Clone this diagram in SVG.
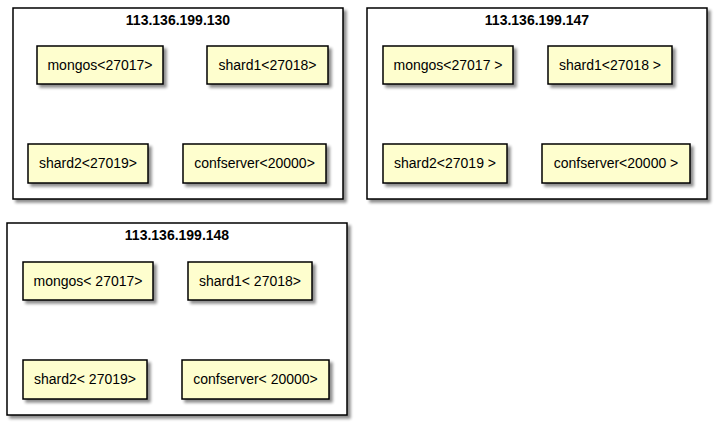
<svg xmlns="http://www.w3.org/2000/svg" width="717" height="426" viewBox="0 0 717 426">
<defs>
<filter id="sh" x="-10%" y="-10%" width="130%" height="140%">
<feGaussianBlur in="SourceAlpha" stdDeviation="1.5"/>
<feOffset dx="3" dy="3" result="b"/>
<feComponentTransfer><feFuncA type="linear" slope="0.45"/></feComponentTransfer>
<feMerge><feMergeNode/><feMergeNode in="SourceGraphic"/></feMerge>
</filter>
<style>
.frame{fill:#FFFFFF;stroke:#000000;stroke-width:1.5;filter:url(#sh)}
.node{fill:#FEFECE;stroke:#000000;stroke-width:1.5;filter:url(#sh)}
.t{font-family:"Liberation Sans",Arial,sans-serif;font-size:14px;fill:#000000;text-anchor:middle}
.h{font-family:"Liberation Sans",Arial,sans-serif;font-size:14px;font-weight:bold;fill:#000000;text-anchor:middle}
</style>
</defs>
<rect width="717" height="426" fill="#FFFFFF"/>
<g id="host130">
<rect class="frame" x="13" y="8" width="330" height="191"/>
<text class="h" x="178" y="25">113.136.199.130</text>
</g>
<g id="mongos130"><rect class="node" x="37" y="46" width="126" height="38"/><text class="t" x="100" y="70">mongos&lt;27017&gt;</text></g>
<g id="shard1_130"><rect class="node" x="207" y="46" width="121" height="38"/><text class="t" x="267.5" y="70">shard1&lt;27018&gt;</text></g>
<g id="shard2_130"><rect class="node" x="28" y="144" width="120" height="39"/><text class="t" x="88" y="168">shard2&lt;27019&gt;</text></g>
<g id="conf130"><rect class="node" x="183" y="144" width="143" height="39"/><text class="t" x="254.5" y="168">confserver&lt;20000&gt;</text></g>

<g id="host147">
<rect class="frame" x="367" y="8" width="340" height="191"/>
<text class="h" x="537" y="25">113.136.199.147</text>
</g>
<g id="mongos147"><rect class="node" x="383" y="46" width="130" height="38"/><text class="t" x="448" y="70">mongos&lt;27017 &gt;</text></g>
<g id="shard1_147"><rect class="node" x="548" y="46" width="124" height="38"/><text class="t" x="610" y="70">shard1&lt;27018 &gt;</text></g>
<g id="shard2_147"><rect class="node" x="383" y="144" width="124" height="39"/><text class="t" x="445" y="168">shard2&lt;27019 &gt;</text></g>
<g id="conf147"><rect class="node" x="542" y="144" width="148" height="39"/><text class="t" x="616" y="168">confserver&lt;20000 &gt;</text></g>

<g id="host148">
<rect class="frame" x="7" y="223" width="340" height="192"/>
<text class="h" x="177" y="240">113.136.199.148</text>
</g>
<g id="mongos148"><rect class="node" x="23" y="262" width="130" height="38"/><text class="t" x="88" y="286">mongos&lt; 27017&gt;</text></g>
<g id="shard1_148"><rect class="node" x="188" y="262" width="124" height="38"/><text class="t" x="250" y="286">shard1&lt; 27018&gt;</text></g>
<g id="shard2_148"><rect class="node" x="23" y="360" width="124" height="39"/><text class="t" x="85" y="384">shard2&lt; 27019&gt;</text></g>
<g id="conf148"><rect class="node" x="182" y="360" width="147" height="39"/><text class="t" x="255.5" y="384">confserver&lt; 20000&gt;</text></g>
<g id="connectors"/>
</svg>
